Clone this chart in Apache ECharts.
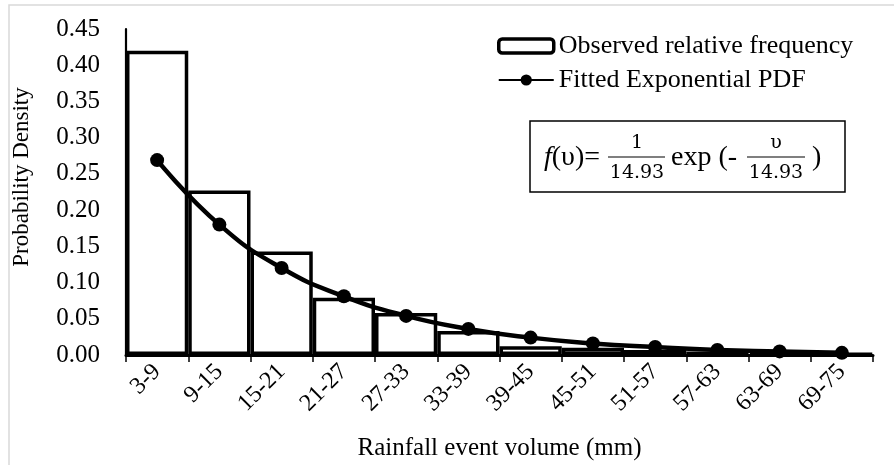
<!DOCTYPE html>
<html>
<head>
<meta charset="utf-8">
<script src="https://cdn.jsdelivr.net/npm/echarts@6/dist/echarts.min.js"></script>
<style>
  html, body { margin: 0; padding: 0; background: #fff; }
  #chart { width: 894px; height: 465px; }
</style>
</head>
<body>
<div id="chart"></div>
<script>
// rainfall event volume bins (mm)
var categories = ['3-9', '9-15', '15-21', '21-27', '27-33', '33-39', '39-45', '45-51', '51-57', '57-63', '63-69', '69-75'];
// observed relative frequency per bin
var observed = [0.42, 0.227, 0.143, 0.079, 0.058, 0.033, 0.012, 0.010, 0.007, 0.005, 0.004, 0.002];
// fitted exponential pdf read at bin centres
var fitted = [0.269, 0.180, 0.120, 0.081, 0.054, 0.036, 0.024, 0.016, 0.011, 0.007, 0.005, 0.003];

var serif = '"Liberation Serif", "Times New Roman", serif';
var mathFont = '"DejaVu Serif", serif';
var chart = echarts.init(document.getElementById('chart'));

var option = {
  backgroundColor: '#fff',
  animation: false,
  grid: { left: 126, right: 21, top: 29, bottom: 110, outerBoundsMode: 'none', containLabel: false },
  legend: {
    orient: 'vertical',
    left: 492,
    top: 28,
    itemGap: 8,
    itemWidth: 55,
    itemHeight: 14,
    textStyle: { fontFamily: serif, fontSize: 26, color: '#000' },
    data: [
      { name: 'Observed relative frequency', itemStyle: { color: '#fff', borderColor: '#000', borderWidth: 3.5 } },
      { name: 'Fitted Exponential PDF' }
    ]
  },
  xAxis: {
    type: 'category',
    data: categories,
    name: 'Rainfall event volume (mm)',
    nameLocation: 'middle',
    nameGap: 81,
    nameMoveOverlap: false,
    nameTextStyle: { fontFamily: serif, fontSize: 25, color: '#000' },
    axisLine: { lineStyle: { color: '#000', width: 3 } },
    axisTick: { show: true, length: 7, lineStyle: { color: '#000', width: 1.5 } },
    axisLabel: { rotate: 45, margin: 13, fontFamily: serif, fontSize: 24, color: '#000' }
  },
  yAxis: {
    type: 'value',
    min: 0,
    max: 0.45,
    interval: 0.05,
    name: 'Probability Density',
    nameLocation: 'middle',
    nameGap: 93,
    nameTextStyle: { fontFamily: serif, fontSize: 23, color: '#000', padding: [0, 0, 0, 30] },
    axisLine: { show: true, lineStyle: { color: '#000', width: 2.2 } },
    axisTick: { show: false },
    splitLine: { show: false },
    axisLabel: {
      margin: 26,
      fontFamily: serif,
      fontSize: 25,
      color: '#000',
      formatter: function (v) { return v.toFixed(2); }
    }
  },
  series: [
    {
      name: 'Observed relative frequency',
      type: 'bar',
      data: observed,
      barCategoryGap: '0%',
      itemStyle: { color: '#fff', borderColor: '#000', borderWidth: 3.5 },
      z: 2
    },
    {
      name: 'Fitted Exponential PDF',
      type: 'line',
      data: fitted,
      smooth: true,
      symbol: 'circle',
      symbolSize: 14,
      lineStyle: { color: '#000', width: 4.5 },
      itemStyle: { color: '#000' },
      z: 3
    }
  ],
  graphic: [
    {
      type: 'rect',
      silent: true,
      shape: { x: 9, y: 5, width: 900, height: 480 },
      style: { fill: 'none', stroke: '#d9d9d9', lineWidth: 1.5 }
    },
    {
      type: 'group',
      silent: true,
      children: [
        { type: 'rect', shape: { x: 530, y: 121, width: 315, height: 71 },
          style: { fill: '#fff', stroke: '#000', lineWidth: 1.5 } },
        { type: 'text', x: 544, y: 158,
          style: { text: '{i|f}(υ)=', rich: { i: { fontStyle: 'italic', fontFamily: serif, fontSize: 28 } },
                   fontFamily: serif, fontSize: 28, fill: '#000', verticalAlign: 'middle' } },
        { type: 'text', x: 637, y: 143,
          style: { text: '1', fontFamily: mathFont, fontSize: 19, fill: '#000', align: 'center', verticalAlign: 'middle' } },
        { type: 'line', shape: { x1: 608, y1: 157, x2: 665, y2: 157 }, style: { stroke: '#000', lineWidth: 1.2 } },
        { type: 'text', x: 637, y: 173,
          style: { text: '14.93', fontFamily: mathFont, fontSize: 19, fill: '#000', align: 'center', verticalAlign: 'middle' } },
        { type: 'text', x: 671, y: 158,
          style: { text: 'exp (-', fontFamily: serif, fontSize: 28, fill: '#000', verticalAlign: 'middle' } },
        { type: 'text', x: 776, y: 143,
          style: { text: 'υ', fontFamily: mathFont, fontSize: 19, fill: '#000', align: 'center', verticalAlign: 'middle' } },
        { type: 'line', shape: { x1: 747, y1: 157, x2: 805, y2: 157 }, style: { stroke: '#000', lineWidth: 1.2 } },
        { type: 'text', x: 776, y: 173,
          style: { text: '14.93', fontFamily: mathFont, fontSize: 19, fill: '#000', align: 'center', verticalAlign: 'middle' } },
        { type: 'text', x: 812, y: 158,
          style: { text: ')', fontFamily: serif, fontSize: 28, fill: '#000', verticalAlign: 'middle' } }
      ]
    }
  ]
};

chart.setOption(option);
</script>
</body>
</html>
